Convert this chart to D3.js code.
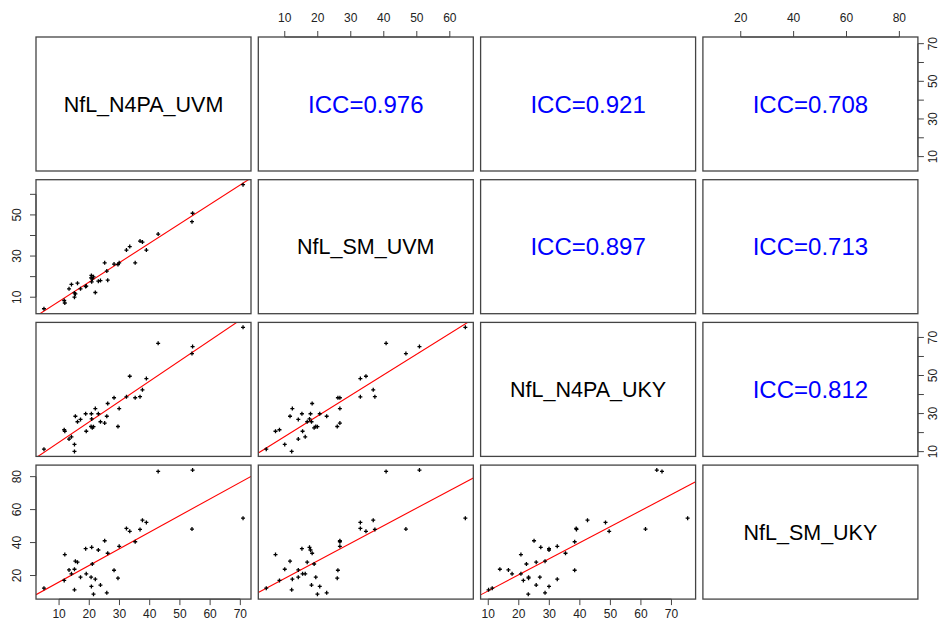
<!DOCTYPE html>
<html>
<head>
<meta charset="utf-8">
<script src="https://cdn.jsdelivr.net/npm/d3@7"></script>
<style>
body { margin: 0; background: #fff; }
text { font-family: "Liberation Sans", Arial, sans-serif; }
</style>
</head>
<body>
<script>
// variable names on the diagonal
var varNames = ["NfL_N4PA_UVM", "NfL_SM_UVM", "NfL_N4PA_UKY", "NfL_SM_UKY"];

// one value per sample
var n4paUVM = [5.0, 11.7, 11.9, 13.3, 14.1, 15.1, 15.1, 15.4, 16.1, 17.1, 18.8, 19.0, 20.6, 20.7, 20.8, 21.0, 21.4, 22.0,
               23.0, 23.7, 25.1, 25.8, 26.1, 28.2, 29.5, 29.9, 32.3, 33.4, 35.2, 36.8, 37.6, 38.9, 42.8, 54.0, 54.2, 70.9];
var smUVM   = [4.4, 8.4, 7.2, 14.1, 16.2, 10.0, 12.1, 11.6, 16.8, 14.1, 15.2, 15.4, 19.4, 20.6, 17.5, 18.9, 19.9, 12.3,
               17.8, 18.1, 26.7, 22.7, 18.3, 26.1, 25.9, 26.7, 32.9, 34.6, 26.7, 37.3, 36.8, 32.9, 40.7, 46.7, 50.8, 64.7];
var n4paUKY = [11.3, 21.5, 20.7, 16.6, 17.8, 13.8, 10.1, 28.6, 25.7, 26.9, 29.9, 20.7, 23.2, 29.9, 27.2, 22.5, 23.1, 32.6,
               29.9, 25.7, 25.0, 28.6, 35.3, 38.3, 23.2, 32.6, 38.8, 49.6, 38.3, 38.9, 42.5, 48.4, 66.9, 61.5, 65.2, 75.3];
var smUKY   = [12.3, 17.0, 32.7, 23.4, 21.0, 23.8, 11.3, 28.7, 28.1, 19.0, 36.3, 21.0, 19.0, 13.4, 37.1, 27.0, 8.7, 17.8,
               35.5, 14.2, 41.1, 9.5, 33.5, 23.2, 18.4, 37.7, 48.6, 46.8, 40.5, 48.0, 53.6, 52.2, 83.2, 48.2, 84.0, 54.8];

// tick values per variable
var ticksN4paUVM = [10, 20, 30, 40, 50, 60, 70];
var ticksSmUVM   = [10, 20, 30, 40, 50, 60];
var ticksN4paUKY = [10, 20, 30, 40, 50, 60, 70];
var ticksSmUKY   = [20, 40, 60, 80];

// upper panels: [row, col, text]
var iccRow  = [0, 0, 0, 1, 1, 2];
var iccCol  = [1, 2, 3, 2, 3, 3];
var iccText = ["ICC=0.976", "ICC=0.921", "ICC=0.708", "ICC=0.897", "ICC=0.713", "ICC=0.812"];

var cols = [n4paUVM, smUVM, n4paUKY, smUKY];
var tickSets = [ticksN4paUVM, ticksSmUVM, ticksN4paUKY, ticksSmUKY];

var svg = d3.select("body").append("svg")
  .attr("width", 944)
  .attr("height", 627);

var left0 = 36, top0 = 37, pw = 215, ph = 134, stepX = 222.3, stepY = 142.7;

// R pads the data range by 4% on each side
function padded(v) {
  var e = d3.extent(v), d = e[1] - e[0];
  return [e[0] - 0.04 * d, e[1] + 0.04 * d];
}

var xs = cols.map(function(v, i) {
  return d3.scaleLinear().domain(padded(v)).range([left0 + i * stepX, left0 + i * stepX + pw]);
});
var ys = cols.map(function(v, i) {
  return d3.scaleLinear().domain(padded(v)).range([top0 + i * stepY + ph, top0 + i * stepY]);
});

function lm(x, y) {
  var mx = d3.mean(x), my = d3.mean(y), sxy = 0, sxx = 0;
  x.forEach(function(d, i) { sxy += (d - mx) * (y[i] - my); sxx += (d - mx) * (d - mx); });
  var b = sxy / sxx;
  return {a: my - b * mx, b: b};
}

var defs = svg.append("defs");
var plus = "M-2,0H2M0,-2V2";

for (var r = 0; r < 4; r++) {
  for (var c = 0; c < 4; c++) {
    var px = xs[c].range()[0], py = ys[r].range()[1];
    var g = svg.append("g");

    if (r > c) {
      var id = "clip" + r + c;
      defs.append("clipPath").attr("id", id)
        .append("rect").attr("x", px).attr("y", py).attr("width", pw).attr("height", ph);

      var xv = cols[c], yv = cols[r];
      var fit = lm(xv, yv);
      var dom = xs[c].domain();
      g.append("line")
        .attr("clip-path", "url(#" + id + ")")
        .attr("x1", xs[c](dom[0])).attr("y1", ys[r](fit.a + fit.b * dom[0]))
        .attr("x2", xs[c](dom[1])).attr("y2", ys[r](fit.a + fit.b * dom[1]))
        .attr("stroke", "#ff0000")
        .attr("stroke-width", 1.1);

      var xsc = xs[c], ysc = ys[r];
      g.selectAll("path.pt")
        .data(d3.range(xv.length))
        .enter().append("path")
        .attr("class", "pt")
        .attr("d", plus)
        .attr("transform", function(i) { return "translate(" + xsc(xv[i]) + "," + ysc(yv[i]) + ")"; })
        .attr("stroke", "#000")
        .attr("stroke-width", 1.3);
    } else if (r == c) {
      g.append("text")
        .attr("x", px + pw / 2)
        .attr("y", py + ph / 2 + 21.5 * 0.36)
        .attr("text-anchor", "middle")
        .attr("font-size", 21.5)
        .attr("fill", "#000")
        .text(varNames[r]);
    }

    g.append("rect")
      .attr("x", px).attr("y", py)
      .attr("width", pw).attr("height", ph)
      .attr("fill", "none")
      .attr("stroke", "#444")
      .attr("stroke-width", 1.3);
  }
}

iccText.forEach(function(t, k) {
  var px = xs[iccCol[k]].range()[0], py = ys[iccRow[k]].range()[1];
  svg.append("text")
    .attr("x", px + pw / 2)
    .attr("y", py + ph / 2 + 24 * 0.36)
    .attr("text-anchor", "middle")
    .attr("font-size", 24)
    .attr("fill", "#0000ff")
    .text(t);
});

// axis in R style: line between outer ticks, labels skipped when they would collide
function drawAxis(side, scale, ticks, pos) {
  var g = svg.append("g").attr("stroke", "#444").attr("fill", "#222");
  var vertical = (side == "left" || side == "right");
  var dir = (side == "bottom" || side == "right") ? 1 : -1;
  var p0 = scale(ticks[0]), p1 = scale(ticks[ticks.length - 1]);
  if (vertical) {
    g.append("line").attr("x1", pos).attr("x2", pos).attr("y1", p0).attr("y2", p1);
  } else {
    g.append("line").attr("y1", pos).attr("y2", pos).attr("x1", p0).attr("x2", p1);
  }
  var lastKept = null;
  ticks.forEach(function(t) {
    var p = scale(t);
    if (vertical) {
      g.append("line").attr("x1", pos).attr("x2", pos + dir * 6).attr("y1", p).attr("y2", p);
    } else {
      g.append("line").attr("y1", pos).attr("y2", pos + dir * 6).attr("x1", p).attr("x2", p);
    }
    var label = String(t);
    var need = label.length * 6.7 + 10;
    if (lastKept !== null && Math.abs(p - lastKept) < need) return;
    lastKept = p;
    var off = (side == "bottom" || side == "right") ? 15 : 19;
    var tx, ty, rot = "";
    if (vertical) {
      tx = pos + dir * off; ty = p;
      rot = "rotate(-90," + tx + "," + ty + ")";
    } else {
      tx = p; ty = pos + dir * off;
    }
    g.append("text")
      .attr("x", tx).attr("y", ty + 4.3)
      .attr("transform", rot ? "rotate(-90," + tx + "," + ty + ")" : null)
      .attr("dy", vertical ? 0 : 0)
      .attr("stroke", "none")
      .attr("text-anchor", "middle")
      .attr("font-size", 12)
      .text(label);
  });
}

// bottom of columns 1 and 3, top of columns 2 and 4
[0, 2].forEach(function(c) { drawAxis("bottom", xs[c], tickSets[c], ys[3].range()[0]); });
[1, 3].forEach(function(c) { drawAxis("top", xs[c], tickSets[c], ys[0].range()[1]); });
// left of rows 2 and 4, right of rows 1 and 3
[1, 3].forEach(function(r) { drawAxis("left", ys[r], tickSets[r], xs[0].range()[0]); });
[0, 2].forEach(function(r) { drawAxis("right", ys[r], tickSets[r], xs[3].range()[1]); });
</script>
</body>
</html>
